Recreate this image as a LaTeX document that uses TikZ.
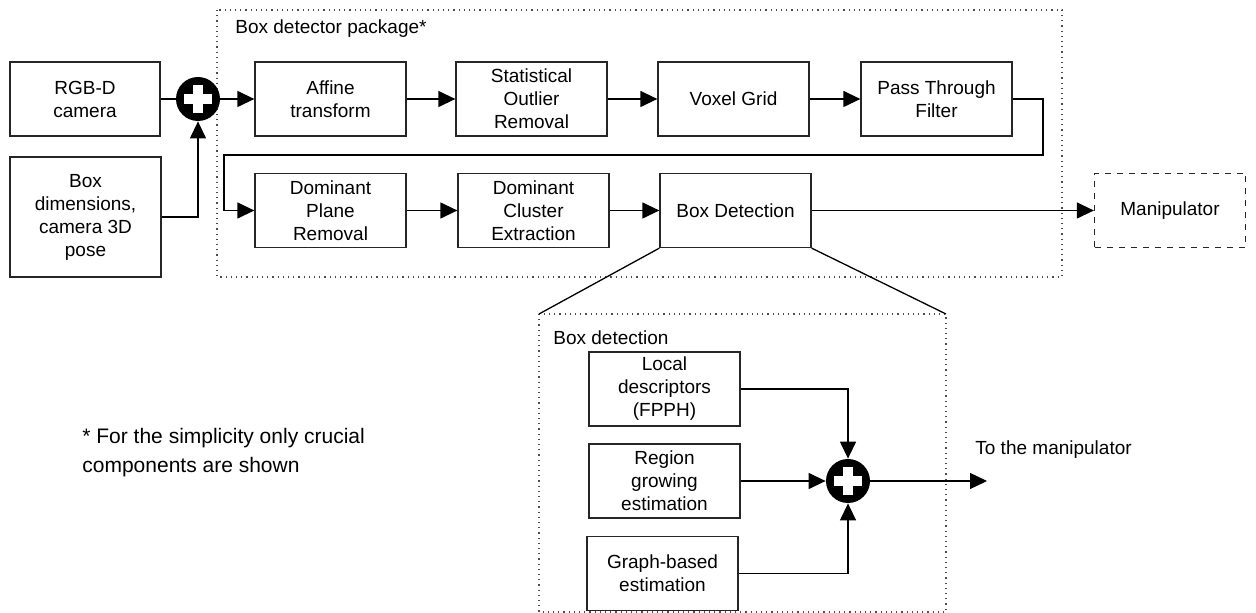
\documentclass[tikz,border=0pt]{standalone}
\usepackage{fontspec}
\setmainfont{Liberation Sans}
\usetikzlibrary{arrows.meta}

% black adder with a white cross: name, x, y
\newcommand{\adder}[3]{
    \node[sum] (#1) at (#2,#3) {};
    \fill[white] ([xshift=-6.8pt,yshift=-2.4pt]#1.center) rectangle ([xshift=6.8pt,yshift=2.4pt]#1.center);
    \fill[white] ([xshift=-2.4pt,yshift=-6.8pt]#1.center) rectangle ([xshift=2.4pt,yshift=6.8pt]#1.center);
}

\begin{document}
\begin{tikzpicture}[x=0.5pt, y=-0.5pt,
    font=\fontsize{9.5}{11.5}\selectfont,
    block/.style={draw=black!85, line width=0.65pt, minimum width=75.5pt, minimum height=37pt, align=center, inner sep=1pt},
    sum/.style={circle, fill=black, minimum size=22pt, inner sep=0pt},
    line/.style={line width=0.65pt},
    arr/.style={line, -{Triangle[length=8.5pt,width=8pt]}},
    group/.style={draw=black!70, dotted, line width=0.6pt},
    tag/.style={inner sep=0pt}]

  \useasboundingbox (0,0) rectangle (1256,613);

  % outer package
  \draw[group] (217,10) rectangle (1062,277);
  \node[tag, anchor=west] (pkglabel) at (235,29) {Box detector package*};

  % inputs
  \node[block, minimum width=75pt] (cam) at (85,99) {RGB-D\\camera};
  \node[block, minimum height=60pt] (dims) at (85.5,217) {Box\\dimensions,\\camera 3D\\pose};
  \adder{sumin}{198}{99}

  % first row
  \node[block] (affine) at (330.5,99) {Affine\\transform};
  \node[block] (outlier) at (531.5,99) {Statistical\\Outlier\\Removal};
  \node[block] (voxel) at (733.5,99) {Voxel Grid};
  \node[block] (pass) at (936.5,99) {Pass Through\\Filter};

  % second row
  \node[block] (plane) at (330.5,210.5) {Dominant\\Plane\\Removal};
  \node[block] (cluster) at (533.5,210.5) {Dominant\\Cluster\\Extraction};
  \node[block] (boxdet) at (735.5,210.5) {Box Detection};
  \node[block, draw=black!85, dashed] (manip) at (1170,210.5) {Manipulator};

  \draw[line] (cam) -- (sumin);
  \draw[arr] (dims.east) -| (sumin.south);
  \draw[arr] (sumin) -- (affine);
  \draw[arr] (affine) -- (outlier);
  \draw[arr] (outlier) -- (voxel);
  \draw[arr] (voxel) -- (pass);
  \coordinate (fbr) at (1043,155);
  \coordinate (fbl) at (224,155);
  \draw[arr] (pass.east) -| (fbr) -- (fbl) |- (plane.west);
  \draw[arr] (plane) -- (cluster);
  \draw[arr] (cluster) -- (boxdet);
  \draw[arr] (boxdet) -- (manip);

  % box detection detail
  \coordinate (innw) at (539,314);
  \coordinate (inse) at (946,612);
  \draw[group] (innw) rectangle (inse);
  \draw[line] (boxdet.south west) -- (innw);
  \draw[line] (boxdet.south east) -- (inse |- innw);
  \node[tag, anchor=west] (detlabel) at (553,338) {Box detection};

  \node[block] (local) at (664.5,389) {Local\\descriptors\\(FPPH)};
  \node[block] (region) at (664.5,481) {Region\\growing\\estimation};
  \node[block] (graph) at (662.5,573.5) {Graph-based\\estimation};
  \adder{sumdet}{848}{481}

  \draw[arr] (local.east) -| (sumdet.north);
  \draw[arr] (region) -- (sumdet);
  \draw[arr] (graph.east) -| (sumdet.south);
  \coordinate (out) at (987,481);
  \draw[arr] (sumdet) -- (out);
  \node[tag, anchor=base west] (outlabel) at (975,455) {To the manipulator};

  \node[tag, anchor=north west, align=left, font=\fontsize{10.5}{14.5}\selectfont] (note) at (82,428) {* For the simplicity only crucial\\components are shown};

\end{tikzpicture}
\end{document}
